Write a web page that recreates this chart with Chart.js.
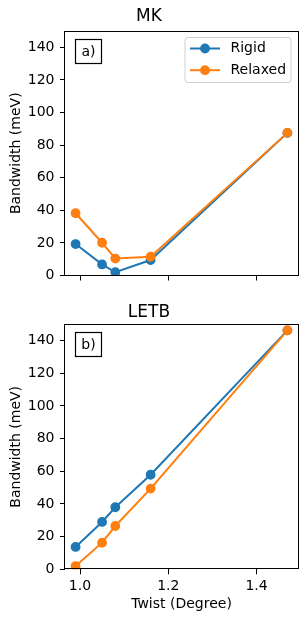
<!DOCTYPE html>
<html>
<head>
<meta charset="utf-8">
<script src="https://cdn.jsdelivr.net/npm/chart.js@4"></script>
<style>
  body { margin: 0; background: #fff; }
  #wrap { position: relative; width: 308px; height: 622px; }
  canvas { position: absolute; left: 0; }
  #mkChart { top: 0; }
  #letbChart { top: 300px; }
</style>
</head>
<body>
<div id="wrap">
  <canvas id="mkChart" width="308" height="300"></canvas>
  <canvas id="letbChart" width="308" height="322"></canvas>
</div>
<script>
const twist = [0.99, 1.05, 1.08, 1.16, 1.47];

const mkRigid = [19.3, 6.8, 2.0, 9.5, 87.5];
const mkRelaxed = [38.2, 20.1, 10.4, 11.5, 87.5];

const letbRigid = [13.7, 29.0, 38.0, 57.9, 146.3];
const letbRelaxed = [2.0, 16.3, 26.5, 49.4, 146.3];

const xTicks = [1.0, 1.2, 1.4];
const yTicks = [0, 20, 40, 60, 80, 100, 120, 140];

const BLUE = "#1f77b4";
const ORANGE = "#ff7f0e";

Chart.defaults.font.family = "'DejaVu Sans', sans-serif";
Chart.defaults.font.size = 14;
Chart.defaults.color = "#000";

document.addEventListener("DOMContentLoaded", () => {
  renderPanel("mkChart", {
    title: "MK",
    tag: "a)",
    rigid: mkRigid,
    relaxed: mkRelaxed,
    showLegend: true,
    showXLabels: false,
    titlePadding: { top: 6.5, bottom: 4.1 },
    xAxisHeight: 24.5
  });
  renderPanel("letbChart", {
    title: "LETB",
    tag: "b)",
    rigid: letbRigid,
    relaxed: letbRelaxed,
    showLegend: false,
    showXLabels: true,
    titlePadding: { top: 2.3, bottom: 1.6 },
    xAxisHeight: 52.7
  });
});

function toPoints(values) {
  return values.map((y, i) => ({ x: twist[i], y }));
}

function lineDataset(label, values, color, order) {
  return {
    label,
    data: toPoints(values),
    borderColor: color,
    backgroundColor: color,
    pointBackgroundColor: color,
    pointBorderColor: color,
    pointRadius: 4.2,
    pointBorderWidth: 1.4,
    borderWidth: 2,
    tension: 0,
    order
  };
}

// box around the axes, like matplotlib spines
const framePlugin = {
  id: "frame",
  afterDatasetsDraw(chart) {
    const { ctx, chartArea: a } = chart;
    ctx.save();
    ctx.strokeStyle = "#000";
    ctx.lineWidth = 1;
    ctx.strokeRect(Math.round(a.left) - 0.5, Math.round(a.top) + 0.5,
      Math.round(a.right) - Math.round(a.left) + 1, Math.round(a.bottom) - Math.round(a.top) - 1);
    ctx.restore();
  }
};

// boxed panel tag in the upper left corner
const tagPlugin = {
  id: "tag",
  afterDraw(chart, args, opts) {
    if (!opts.text) return;
    const { ctx, chartArea: a } = chart;
    const x = Math.round(a.left + 10) + 0.5;
    const y = Math.round(a.top + 8) + 0.5;
    ctx.save();
    ctx.strokeStyle = "#000";
    ctx.lineWidth = 1.2;
    ctx.strokeRect(x, y, 26, 24);
    ctx.fillStyle = "#000";
    ctx.font = "14px 'DejaVu Sans'";
    ctx.textAlign = "center";
    ctx.textBaseline = "middle";
    ctx.fillText(opts.text, x + 13, y + 12.5);
    ctx.restore();
  }
};

// matplotlib-style legend in the upper right corner
const boxLegendPlugin = {
  id: "boxLegend",
  afterDraw(chart, args, opts) {
    if (!opts.show) return;
    const { ctx, chartArea: a } = chart;
    const w = 106;
    const h = 45;
    const x = a.right - 7 - w;
    const y = a.top + 6.5;
    ctx.save();
    ctx.fillStyle = "rgba(255,255,255,0.8)";
    ctx.strokeStyle = "#d0d0d0";
    ctx.lineWidth = 1;
    ctx.beginPath();
    ctx.roundRect(x, y, w, h, 3);
    ctx.fill();
    ctx.stroke();
    ctx.font = "14px 'DejaVu Sans'";
    ctx.textBaseline = "middle";
    ctx.textAlign = "left";
    chart.data.datasets.forEach((ds, i) => {
      const cy = y + 11 + i * 21.7;
      ctx.strokeStyle = ds.borderColor;
      ctx.lineWidth = 2;
      ctx.beginPath();
      ctx.moveTo(x + 5, cy);
      ctx.lineTo(x + 35, cy);
      ctx.stroke();
      ctx.fillStyle = ds.borderColor;
      ctx.beginPath();
      ctx.arc(x + 20, cy, 4.9, 0, Math.PI * 2);
      ctx.fill();
      ctx.fillStyle = "#000";
      ctx.fillText(ds.label, x + 45.5, cy);
    });
    ctx.restore();
  }
};

function renderPanel(canvasId, cfg) {
  const ctx = document.getElementById(canvasId);
  if (!ctx) return;

  new Chart(ctx, {
    type: "line",
    data: {
      datasets: [
        lineDataset("Rigid", cfg.rigid, BLUE, 2),
        lineDataset("Relaxed", cfg.relaxed, ORANGE, 1)
      ]
    },
    options: {
      responsive: false,
      animation: false,
      layout: { padding: { left: 0, right: 10, top: 0, bottom: 0 } },
      plugins: {
        legend: { display: false },
        tooltip: { enabled: false },
        title: {
          display: true,
          text: cfg.title,
          color: "#000",
          font: { size: 17, weight: "normal", lineHeight: 1.2 },
          padding: cfg.titlePadding
        },
        tag: { text: cfg.tag },
        boxLegend: { show: cfg.showLegend }
      },
      scales: {
        x: {
          type: "linear",
          min: 0.966,
          max: 1.494,
          afterBuildTicks: (scale) => {
            scale.ticks = xTicks.map((value) => ({ value }));
          },
          afterFit: (scale) => {
            scale.height = cfg.xAxisHeight;
          },
          grid: {
            drawOnChartArea: false,
            drawTicks: true,
            tickLength: 5,
            color: "#000",
            lineWidth: 1
          },
          border: { display: false },
          ticks: {
            display: cfg.showXLabels,
            padding: 4,
            maxRotation: 0,
            callback: (value) => Number(value).toFixed(1)
          },
          title: {
            display: cfg.showXLabels,
            text: "Twist (Degree)",
            font: { size: 14, lineHeight: 1.2 },
            padding: { top: 0, bottom: 9 }
          }
        },
        y: {
          min: 0,
          max: 150,
          afterBuildTicks: (scale) => {
            scale.ticks = yTicks.map((value) => ({ value }));
          },
          afterFit: (scale) => {
            scale.width = 65;
          },
          grid: {
            drawOnChartArea: false,
            drawTicks: true,
            tickLength: 5,
            color: "#000",
            lineWidth: 1
          },
          border: { display: false },
          ticks: {
            padding: 5.5
          },
          title: {
            display: true,
            text: "Bandwidth (meV)",
            font: { size: 14, lineHeight: 1.2 },
            padding: { top: 8.3, bottom: 0 }
          }
        }
      }
    },
    plugins: [framePlugin, tagPlugin, boxLegendPlugin]
  });
}
</script>
</body>
</html>
